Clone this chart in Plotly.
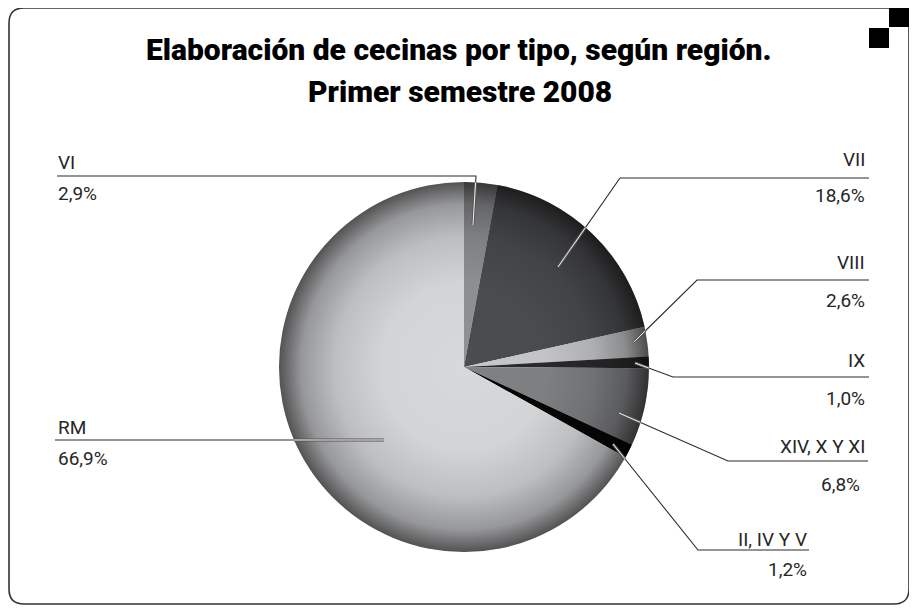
import base64
import math
import plotly.graph_objects as go

# ---- data ----
regions = ["VI", "VII", "VIII", "IX", "XIV, X Y XI", "II, IV Y V", "RM"]
shares = [2.9, 18.6, 2.6, 1.0, 6.8, 1.2, 66.9]
pct_labels = ["2,9%", "18,6%", "2,6%", "1,0%", "6,8%", "1,2%", "66,9%"]
colors = ["#909193", "#4b4c4e", "#c6c7c9", "#2a2a2c", "#808183", "#060606", "#d7d8da"]

title_l1 = "Elaboración de cecinas por tipo, según región."
title_l2 = "Primer semestre 2008"

# ---- layout (pixel geometry, in page pixels) ----
PAGE_OFF = 8            # default body margin of the html page
W, H = 917 - PAGE_OFF, 609 - PAGE_OFF
CX, CY, R = 464, 367, 185


def X(px):
    return (px - PAGE_OFF) / W


def Y(py):
    return 1 - (py - PAGE_OFF) / H


label_layout = {
    "VI": dict(pts=[(57, 176), (476, 176), (473, 225)], side="left", tx=56, ny=162, py=194),
    "VII": dict(pts=[(869, 178), (620, 178), (558, 267)], side="right", tx=867, ny=159, py=196),
    "VIII": dict(pts=[(869, 280), (697, 280), (634, 342)], side="right", tx=867, ny=262, py=300),
    "IX": dict(pts=[(869, 377), (673, 377), (635, 363)], side="right", tx=867, ny=360, py=398),
    "XIV, X Y XI": dict(pts=[(868, 461), (728, 461), (619, 413)], side="right", tx=867, ny=446, py=484, ptx=862),
    "II, IV Y V": dict(pts=[(809, 550), (698, 550), (613, 444)], side="right", tx=809, ny=539, py=569),
    "RM": dict(pts=[(55, 440), (384, 440)], side="left", tx=56, ny=427, py=458),
}

LABEL_FONT = "Roboto, Liberation Sans, sans-serif"
TEXT_COLOR = "#262626"

fig = go.Figure(
    go.Pie(
        labels=regions,
        values=shares,
        sort=False,
        direction="clockwise",
        rotation=0,
        marker=dict(colors=colors, line=dict(width=0)),
        textinfo="none",
        hoverinfo="label+percent",
        domain=dict(x=[X(CX - R), X(CX + R)], y=[Y(CY + R), Y(CY - R)]),
        showlegend=False,
    )
)

shapes = []


def seg_circle_entry(p0, p1):
    x0, y0 = p0
    x1, y1 = p1
    dx, dy = x1 - x0, y1 - y0
    fx, fy = x0 - CX, y0 - CY
    a = dx * dx + dy * dy
    b = 2 * (fx * dx + fy * dy)
    c = fx * fx + fy * fy - R * R
    disc = b * b - 4 * a * c
    if disc < 0:
        return None
    t = (-b - math.sqrt(disc)) / (2 * a)
    if t < 0 or t > 1:
        return None
    return (x0 + t * dx, y0 + t * dy)


def path_of(points):
    s = ""
    for i, (px, py) in enumerate(points):
        s += ("M" if i == 0 else "L") + f"{X(px):.5f},{Y(py):.5f} "
    return s.strip()


inner_segments = []
for name in regions:
    lay = label_layout[name]
    pts = lay["pts"]
    shapes.append(dict(type="path", xref="paper", yref="paper", path=path_of(pts),
                       line=dict(color="#2b2b2b", width=1.1)))
    entry = seg_circle_entry(pts[-2], pts[-1])
    if entry is not None:
        inner_segments.append([entry, pts[-1]])

for seg in inner_segments:
    shapes.append(dict(type="path", xref="paper", yref="paper", path=path_of(seg),
                       line=dict(color="#555555", width=3)))
for seg in inner_segments:
    shapes.append(dict(type="path", xref="paper", yref="paper", path=path_of(seg),
                       line=dict(color="#f4f4f4", width=1)))

# frame with rounded corners
rc = 15
L_, T_, R_, B_ = 9, 8, 909, 604
frame = (f"M{X(889):.5f},{Y(T_):.5f} L{X(L_ + rc):.5f},{Y(T_):.5f} "
         f"Q{X(L_):.5f},{Y(T_):.5f} {X(L_):.5f},{Y(T_ + rc):.5f} "
         f"L{X(L_):.5f},{Y(B_ - rc):.5f} Q{X(L_):.5f},{Y(B_):.5f} {X(L_ + rc):.5f},{Y(B_):.5f} "
         f"L{X(R_ - rc):.5f},{Y(B_):.5f} Q{X(R_):.5f},{Y(B_):.5f} {X(R_):.5f},{Y(B_ - rc):.5f} "
         f"L{X(R_):.5f},{Y(27):.5f}")
shapes.append(dict(type="path", xref="paper", yref="paper", path=frame,
                   line=dict(color="#333333", width=1.6)))
shapes.append(dict(type="rect", xref="paper", yref="paper", x0=X(889), x1=X(910), y0=Y(7), y1=Y(27),
                   fillcolor="#000000", line=dict(width=0)))
shapes.append(dict(type="rect", xref="paper", yref="paper", x0=X(869), x1=X(889), y0=Y(28), y1=Y(48),
                   fillcolor="#000000", line=dict(width=0)))

annotations = []
for name, pct in zip(regions, pct_labels):
    lay = label_layout[name]
    xa = "left" if lay["side"] == "left" else "right"
    annotations.append(dict(x=X(lay["tx"]), y=Y(lay["ny"]), xref="paper", yref="paper", text=name,
                            showarrow=False, xanchor=xa, yanchor="middle",
                            font=dict(family=LABEL_FONT, size=19, color=TEXT_COLOR)))
    annotations.append(dict(x=X(lay.get("ptx", lay["tx"])), y=Y(lay["py"]), xref="paper", yref="paper",
                            text=pct, showarrow=False, xanchor=xa, yanchor="middle",
                            font=dict(family=LABEL_FONT, size=19, color=TEXT_COLOR)))

TITLE_FONT = "Roboto, Liberation Sans, sans-serif"
annotations.append(dict(x=X(459), y=Y(50), xref="paper", yref="paper", text=title_l1,
                        showarrow=False, xanchor="center", yanchor="middle",
                        font=dict(family=TITLE_FONT, size=30, color="#000000", weight=900)))
annotations.append(dict(x=X(460), y=Y(91), xref="paper", yref="paper", text=title_l2,
                        showarrow=False, xanchor="center", yanchor="middle",
                        font=dict(family=TITLE_FONT, size=30, color="#000000", weight=900)))

svg = f'''<svg xmlns="http://www.w3.org/2000/svg" width="{2*R}" height="{2*R}" viewBox="0 0 {2*R} {2*R}">
<defs><radialGradient id="g" cx="50%" cy="50%" r="50%">
<stop offset="0" stop-color="#000" stop-opacity="0"/>
<stop offset="0.45" stop-color="#000" stop-opacity="0.02"/>
<stop offset="0.7" stop-color="#000" stop-opacity="0.12"/>
<stop offset="0.88" stop-color="#000" stop-opacity="0.3"/>
<stop offset="1" stop-color="#000" stop-opacity="0.62"/>
</radialGradient></defs>
<circle cx="{R}" cy="{R}" r="{R}" fill="url(#g)"/></svg>'''
src = "data:image/svg+xml;base64," + base64.b64encode(svg.encode()).decode()

fig.update_layout(
    width=W, height=H,
    margin=dict(l=0, r=0, t=0, b=0),
    paper_bgcolor="#ffffff",
    plot_bgcolor="#ffffff",
    shapes=shapes,
    annotations=annotations,
    images=[dict(source=src, xref="paper", yref="paper", x=X(CX - R), y=Y(CY - R),
                 sizex=2 * R / W, sizey=2 * R / H, xanchor="left", yanchor="top",
                 sizing="stretch", layer="above")],
)

fig.write_html("out.html")
